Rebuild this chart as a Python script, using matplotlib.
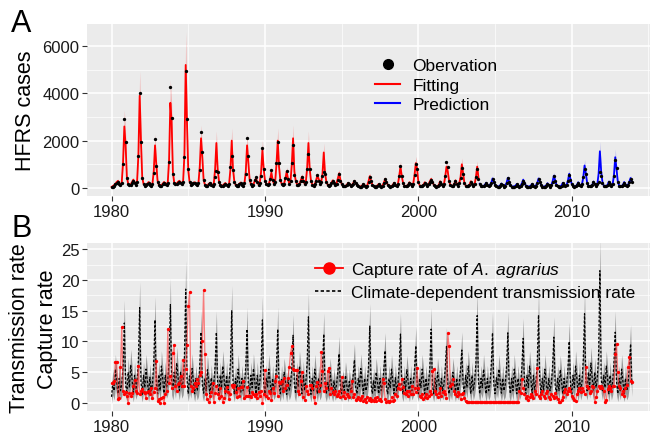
import numpy as np
import matplotlib.pyplot as plt
from matplotlib.lines import Line2D
from matplotlib.ticker import MultipleLocator

plt.rcParams['font.family'] = ['Liberation Sans', 'DejaVu Sans']
plt.rcParams['mathtext.fontset'] = 'custom'
plt.rcParams['mathtext.rm'] = 'Liberation Sans'
plt.rcParams['mathtext.it'] = 'Liberation Sans:italic'

### Data, one row per year (Jan..Dec) ###
years = list(range(1980, 2014))
fit_start = 1980
pred_start = 2004

# observed HFRS cases
hfrs_obs = [
    [30, 50, 90, 150, 200, 260, 180, 110, 200, 1000, 2900, 1950],
    [420, 160, 110, 130, 220, 290, 200, 120, 260, 1340, 4000, 1950],
    [410, 150, 90, 110, 170, 210, 140, 90, 160, 630, 2050, 940],
    [250, 110, 80, 100, 160, 210, 180, 130, 220, 1080, 4250, 2950],
    [600, 210, 150, 170, 230, 260, 210, 160, 260, 1320, 4950, 2900],
    [800, 240, 140, 150, 200, 210, 160, 120, 190, 770, 2350, 1510],
    [320, 120, 80, 100, 150, 190, 130, 90, 160, 450, 700, 660],
    [260, 110, 70, 90, 140, 180, 120, 80, 170, 900, 1370, 760],
    [250, 110, 80, 100, 160, 200, 130, 90, 200, 590, 2100, 1370],
    [350, 150, 100, 130, 340, 480, 250, 120, 200, 520, 1690, 800],
    [300, 150, 120, 160, 380, 760, 350, 150, 250, 1040, 1930, 1040],
    [350, 160, 130, 180, 400, 730, 380, 170, 280, 1040, 1830, 560],
    [300, 140, 110, 160, 300, 460, 300, 160, 250, 800, 1440, 800],
    [280, 130, 100, 150, 300, 530, 300, 180, 250, 520, 660, 590],
    [250, 120, 90, 120, 200, 300, 200, 120, 180, 350, 590, 300],
    [150, 90, 70, 80, 120, 200, 150, 90, 110, 180, 300, 200],
    [120, 70, 50, 60, 90, 150, 100, 60, 100, 250, 450, 300],
    [130, 70, 50, 60, 100, 150, 100, 60, 100, 200, 380, 250],
    [130, 80, 60, 70, 120, 200, 130, 80, 150, 500, 940, 500],
    [200, 100, 70, 80, 130, 220, 150, 90, 180, 550, 1030, 820],
    [250, 100, 70, 80, 130, 220, 150, 90, 150, 250, 330, 250],
    [120, 70, 60, 70, 120, 250, 150, 80, 150, 500, 1110, 900],
    [300, 120, 80, 90, 150, 300, 180, 100, 200, 400, 840, 600],
    [200, 90, 70, 80, 130, 260, 150, 90, 150, 450, 800, 380],
    [150, 90, 70, 80, 120, 200, 130, 80, 120, 200, 380, 250],
    [120, 70, 50, 60, 100, 180, 110, 60, 100, 200, 410, 250],
    [110, 60, 50, 60, 90, 150, 100, 60, 90, 180, 310, 200],
    [100, 60, 50, 60, 90, 160, 100, 60, 100, 200, 380, 250],
    [110, 60, 50, 60, 100, 180, 110, 60, 110, 250, 490, 300],
    [130, 70, 50, 60, 100, 200, 120, 70, 120, 300, 550, 350],
    [150, 80, 60, 70, 110, 220, 130, 80, 150, 450, 800, 600],
    [200, 90, 70, 80, 120, 250, 150, 80, 150, 250, 670, 500],
    [200, 90, 70, 80, 120, 250, 150, 80, 150, 500, 1200, 830],
    [250, 100, 70, 80, 120, 230, 140, 80, 130, 250, 380, 250],
]

# model fitting 1980-2003
hfrs_fit = [
    [40, 80, 120, 180, 250, 300, 200, 120, 250, 1100, 2600, 1800],
    [450, 180, 120, 150, 250, 350, 250, 150, 300, 1400, 3900, 2000],
    [450, 170, 100, 120, 180, 250, 160, 100, 180, 700, 1800, 1000],
    [300, 130, 100, 120, 180, 250, 200, 150, 250, 1200, 3600, 2800],
    [650, 230, 170, 190, 260, 300, 240, 180, 300, 1400, 5200, 2800],
    [750, 260, 160, 170, 220, 240, 180, 140, 220, 900, 2100, 1300],
    [350, 140, 100, 120, 170, 220, 150, 110, 200, 800, 1900, 800],
    [300, 130, 90, 110, 160, 210, 140, 100, 200, 800, 2000, 800],
    [300, 130, 100, 120, 180, 230, 150, 110, 220, 700, 1800, 1100],
    [350, 160, 120, 150, 300, 420, 250, 140, 230, 700, 1600, 800],
    [330, 170, 140, 180, 350, 650, 350, 170, 280, 1000, 2000, 900],
    [350, 180, 150, 200, 400, 700, 380, 190, 300, 1000, 2100, 700],
    [320, 160, 130, 180, 320, 480, 320, 180, 270, 850, 1900, 800],
    [300, 150, 120, 170, 330, 520, 380, 200, 270, 600, 1500, 600],
    [280, 140, 110, 140, 220, 320, 220, 140, 200, 400, 620, 350],
    [170, 100, 80, 90, 130, 210, 160, 100, 120, 200, 300, 200],
    [130, 80, 60, 70, 100, 170, 110, 70, 110, 280, 500, 300],
    [140, 80, 60, 70, 110, 170, 110, 70, 110, 220, 380, 250],
    [140, 90, 70, 80, 130, 220, 140, 90, 160, 500, 900, 500],
    [220, 110, 80, 90, 140, 240, 160, 100, 190, 550, 1050, 800],
    [260, 110, 80, 90, 140, 240, 160, 100, 160, 280, 380, 260],
    [140, 80, 70, 80, 130, 280, 160, 90, 160, 480, 900, 700],
    [300, 130, 90, 100, 160, 320, 190, 110, 210, 450, 1000, 600],
    [220, 100, 80, 90, 140, 280, 160, 100, 160, 450, 900, 450],
]

# model prediction 2004-2013
hfrs_pred = [
    [180, 100, 80, 90, 130, 220, 140, 90, 130, 220, 400, 250],
    [130, 80, 60, 70, 110, 190, 120, 70, 110, 220, 430, 260],
    [120, 70, 60, 70, 100, 170, 110, 70, 100, 200, 350, 220],
    [110, 70, 60, 70, 100, 180, 110, 70, 110, 220, 400, 260],
    [120, 70, 60, 70, 110, 200, 120, 70, 120, 280, 520, 320],
    [140, 80, 60, 70, 110, 220, 130, 80, 130, 320, 600, 380],
    [160, 90, 70, 80, 120, 240, 140, 90, 160, 450, 950, 600],
    [230, 100, 80, 90, 130, 270, 160, 90, 160, 600, 1550, 700],
    [250, 100, 80, 90, 130, 270, 160, 90, 160, 550, 1300, 800],
    [270, 110, 80, 90, 130, 250, 150, 90, 140, 260, 420, 280],
]

# capture rate of A. agrarius
capture = [
    [3.2, 3.2, 3.6, 6.6, 6.6, 0.6, 0.8, 5.8, 12.3, 2.0, 1.5, 1.8],
    [1.2, 0.0, 1.6, 1.2, 1.7, 2.8, 3.8, 2.0, 1.7, 6.0, 1.5, 2.0],
    [2.2, 1.8, 1.6, 0.8, 1.8, 2.0, 1.5, 2.5, 0.8, 1.8, 2.5, 6.9],
    [0.3, 0.6, 0.0, 0.8, 0.9, 0.0, 1.5, 2.0, 12.0, 3.3, 4.4, 2.5],
    [8.2, 9.4, 2.8, 2.0, 3.1, 3.3, 4.4, 2.8, 7.0, 2.7, 5.5, 9.5],
    [15.8, 18.0, 2.8, 2.0, 2.5, 3.3, 2.8, 3.9, 3.3, 4.5, 5.0, 10.0],
    [18.3, 8.0, 1.5, 0.6, 0.1, 1.2, 1.8, 3.3, 0.1, 1.6, 2.8, 1.5],
    [0.8, 2.5, 1.2, 0.2, 0.8, 2.0, 2.6, 1.8, 0.6, 1.5, 3.0, 2.6],
    [3.0, 1.8, 1.0, 2.5, 1.2, 2.6, 2.6, 3.6, 0.8, 1.2, 2.6, 1.2],
    [1.2, 1.0, 1.8, 1.4, 1.2, 1.5, 0.8, 1.8, 1.2, 2.0, 0.0, 1.4],
    [5.4, 1.2, 0.8, 2.0, 1.6, 0.5, 2.5, 1.6, 3.5, 4.4, 1.2, 3.4],
    [3.2, 3.5, 2.0, 4.0, 2.5, 3.0, 4.0, 5.8, 8.1, 9.2, 5.6, 5.4],
    [5.3, 5.4, 2.0, 1.5, 3.5, 5.0, 1.0, 0.5, 2.8, 2.0, 1.5, 3.0],
    [3.0, 2.5, 1.0, 0.0, 2.8, 3.4, 2.0, 3.0, 8.3, 5.2, 2.0, 3.3],
    [2.5, 5.2, 5.7, 1.5, 2.5, 1.8, 1.5, 2.0, 1.2, 1.5, 2.0, 1.0],
    [4.2, 1.2, 1.8, 0.8, 1.5, 1.2, 1.0, 2.0, 3.6, 1.0, 1.5, 0.5],
    [0.6, 1.0, 0.5, 0.8, 1.2, 0.3, 0.6, 0.2, 1.0, 0.5, 0.8, 0.3],
    [0.5, 0.4, 0.8, 0.3, 1.0, 0.5, 0.6, 0.4, 3.9, 3.3, 0.6, 0.2],
    [0.3, 0.2, 0.4, 1.0, 0.3, 0.5, 1.5, 1.2, 2.5, 3.1, 2.3, 3.9],
    [2.6, 1.7, 1.5, 2.0, 1.2, 2.0, 1.5, 2.8, 1.5, 2.5, 1.8, 5.7],
    [2.5, 1.2, 0.9, 1.5, 0.6, 1.0, 1.4, 0.8, 1.2, 2.0, 1.5, 5.2],
    [5.5, 2.0, 1.5, 1.0, 1.6, 2.4, 1.2, 1.8, 2.0, 1.5, 0.8, 11.3],
    [9.3, 2.8, 3.1, 3.9, 2.0, 1.5, 1.2, 1.8, 1.5, 0.6, 1.5, 1.7],
    [0.8, 0.3, 0.1, 0.1, 0.1, 0.1, 0.1, 0.1, 0.1, 0.1, 0.1, 0.1],
    [0.1, 0.1, 0.1, 0.1, 0.1, 0.1, 0.1, 0.1, 0.1, 0.1, 0.1, 0.1],
    [0.1, 0.1, 0.1, 0.1, 0.1, 0.1, 0.1, 0.1, 0.1, 0.1, 0.1, 0.1],
    [0.1, 0.1, 0.1, 0.1, 0.1, 0.2, 0.1, 2.0, 1.7, 3.9, 2.5, 1.5],
    [0.8, 1.2, 0.5, 1.0, 1.5, 1.2, 0.8, 2.0, 1.5, 5.7, 1.2, 0.8],
    [1.5, 2.0, 1.2, 0.8, 1.6, 2.0, 1.0, 0.6, 1.5, 1.2, 0.8, 1.6],
    [1.0, 0.6, 0.2, 0.1, 0.5, 1.0, 1.8, 2.3, 1.5, 2.0, 2.5, 2.0],
    [1.2, 0.8, 0.5, 0.3, 1.5, 2.0, 2.5, 1.8, 2.5, 2.0, 1.5, 5.8],
    [2.8, 2.5, 1.7, 2.0, 2.8, 2.6, 0.1, 1.0, 2.0, 2.8, 2.5, 2.8],
    [2.5, 2.0, 0.1, 0.5, 2.2, 2.8, 2.5, 2.0, 2.8, 2.8, 7.9, 9.6],
    [5.0, 2.8, 2.5, 1.5, 2.0, 1.2, 2.5, 3.0, 5.8, 7.4, 3.6, 3.4],
]

# climate-dependent transmission rate
trans = [
    [1.0, 3.5, 2.0, 5.5, 3.5, 1.5, 4.0, 2.0, 3.0, 6.0, 13.0, 3.0],
    [1.5, 5.0, 2.5, 6.2, 4.0, 1.4, 4.5, 2.2, 3.5, 7.0, 15.5, 3.5],
    [1.4, 4.5, 2.5, 5.5, 3.6, 1.5, 4.2, 2.0, 3.0, 6.5, 13.5, 3.0],
    [1.5, 4.6, 2.0, 6.0, 4.0, 1.6, 4.5, 2.5, 3.6, 7.0, 16.0, 3.5],
    [2.0, 5.0, 2.5, 6.5, 4.2, 2.0, 5.0, 2.5, 3.5, 7.5, 18.5, 4.0],
    [1.5, 4.4, 2.5, 5.6, 3.5, 1.5, 4.0, 2.0, 3.0, 6.0, 11.5, 3.0],
    [1.6, 4.0, 2.0, 5.4, 3.4, 1.5, 4.1, 2.0, 3.2, 6.0, 11.5, 3.0],
    [1.5, 4.5, 2.4, 6.0, 4.0, 1.5, 4.5, 2.1, 3.5, 6.5, 15.0, 3.5],
    [1.5, 4.0, 2.0, 5.5, 3.5, 1.6, 4.0, 2.0, 3.0, 6.0, 12.0, 3.0],
    [1.5, 4.5, 2.5, 5.6, 3.6, 1.5, 4.5, 2.0, 3.5, 6.5, 13.5, 3.1],
    [1.5, 4.1, 2.5, 5.5, 3.5, 1.5, 4.0, 2.1, 3.0, 6.0, 12.0, 3.0],
    [1.5, 4.0, 2.0, 5.0, 3.5, 1.4, 4.0, 2.0, 3.1, 5.5, 11.0, 3.0],
    [1.5, 4.5, 2.6, 6.0, 4.0, 1.5, 4.6, 2.0, 3.5, 6.5, 14.0, 3.0],
    [1.4, 4.0, 2.0, 5.5, 3.5, 1.5, 4.0, 2.0, 3.0, 6.0, 11.2, 3.0],
    [1.5, 3.5, 2.0, 5.0, 3.0, 1.5, 3.6, 1.9, 3.0, 5.0, 8.0, 2.5],
    [1.5, 3.4, 2.0, 4.5, 3.0, 1.4, 3.5, 2.0, 2.5, 4.5, 7.0, 2.5],
    [1.5, 4.0, 2.5, 5.6, 3.5, 1.5, 4.0, 2.0, 3.0, 6.0, 12.5, 3.0],
    [1.5, 3.6, 2.0, 5.0, 3.4, 1.5, 4.0, 2.0, 3.0, 5.5, 8.5, 2.5],
    [1.5, 4.0, 2.4, 5.5, 3.5, 1.5, 4.1, 2.0, 3.0, 6.0, 11.2, 3.0],
    [1.5, 4.0, 2.0, 5.4, 3.5, 1.5, 4.0, 2.0, 3.0, 5.5, 9.3, 3.0],
    [1.5, 4.0, 2.5, 5.5, 3.6, 1.5, 4.0, 2.0, 3.2, 6.0, 12.0, 3.0],
    [1.5, 4.0, 2.0, 5.0, 3.5, 1.5, 4.0, 2.0, 3.0, 5.5, 9.2, 3.0],
    [1.5, 3.5, 2.0, 5.0, 3.4, 1.5, 4.0, 2.0, 3.0, 5.5, 8.6, 3.0],
    [1.5, 4.5, 2.5, 6.0, 4.0, 1.5, 4.5, 2.0, 3.5, 6.5, 14.2, 3.5],
    [1.5, 4.0, 2.5, 5.5, 3.5, 1.5, 4.0, 2.0, 3.0, 6.0, 11.4, 3.0],
    [1.5, 4.1, 2.5, 5.5, 3.5, 1.6, 4.0, 2.0, 3.0, 6.0, 11.4, 3.0],
    [1.5, 4.0, 2.0, 5.5, 3.5, 1.5, 4.0, 2.0, 3.0, 6.0, 10.5, 3.0],
    [1.5, 4.5, 2.5, 6.0, 4.0, 1.5, 4.5, 2.0, 3.5, 6.5, 14.3, 3.5],
    [1.5, 4.0, 2.0, 5.5, 3.5, 1.5, 4.0, 2.0, 3.0, 6.0, 10.7, 3.0],
    [1.5, 4.0, 2.0, 5.4, 3.5, 1.5, 4.0, 2.0, 3.0, 5.5, 10.0, 3.0],
    [1.5, 4.5, 2.5, 6.0, 4.0, 1.5, 4.5, 2.0, 3.5, 7.0, 14.5, 3.5],
    [2.0, 5.0, 2.5, 6.5, 4.0, 2.0, 5.0, 2.5, 4.0, 8.0, 21.5, 4.0],
    [2.0, 4.5, 2.5, 6.0, 4.0, 1.5, 4.5, 2.0, 3.5, 6.5, 11.5, 3.5],
    [1.5, 4.0, 2.0, 5.5, 3.5, 1.5, 4.0, 2.0, 3.0, 6.0, 9.6, 3.0],
]

# width of the uncertainty bands
fit_band_lo, fit_band_hi = 0.2, 0.27
trans_band_rel, trans_band_abs = 0.18, 1.4


def monthly(rows, first_year):
    vals = np.array(rows, dtype=float).ravel()
    t = first_year + np.arange(len(vals)) / 12.0
    return t, vals


t_obs, obs = monthly(hfrs_obs, years[0])
t_fit, fit = monthly(hfrs_fit, fit_start)
t_pred, pred = monthly(hfrs_pred, pred_start)
t_b, cap = monthly(capture, years[0])
_, tr = monthly(trans, years[0])

### Figure ###
fig = plt.figure(figsize=(6.57, 4.35), dpi=100)
axA = fig.add_axes([87 / 657, 1 - 197 / 435, 563 / 657, 172 / 435])
axB = fig.add_axes([87 / 657, 1 - 412 / 435, 563 / 657, 168 / 435])

for ax in (axA, axB):
    ax.set_facecolor('#EBEBEB')
    for s in ax.spines.values():
        s.set_visible(False)
    ax.set_axisbelow(True)
    ax.grid(which='major', color='white', lw=1.1)
    ax.grid(which='minor', color='white', lw=0.5)
    ax.tick_params(which='major', length=3.5, width=0.8, color='#333333',
                   labelsize=12, labelcolor='#1a1a1a', pad=2)
    ax.tick_params(which='minor', length=0)
    ax.set_xlim(1978.4, 2015.1)
    ax.set_xticks([1980, 1990, 2000, 2010])
    ax.xaxis.set_minor_locator(MultipleLocator(5))

# panel A
axA.fill_between(t_fit, fit * (1 - fit_band_lo), fit * (1 + fit_band_hi),
                 color='red', alpha=0.25, lw=0)
axA.fill_between(t_pred, pred * (1 - fit_band_lo), pred * (1 + fit_band_hi),
                 color='blue', alpha=0.2, lw=0)
axA.plot(t_fit, fit, color='red', lw=1.3)
axA.plot(t_pred, pred, color='blue', lw=1.3)
axA.plot(t_obs, obs, 'o', color='black', ms=2.4, mew=0)
axA.set_ylim(-340, 6930)
axA.set_yticks([0, 2000, 4000, 6000])
axA.yaxis.set_minor_locator(MultipleLocator(1000))

hA = [Line2D([], [], ls='none', marker='o', color='black', ms=7),
      Line2D([], [], color='red', lw=1.5),
      Line2D([], [], color='blue', lw=1.5)]
axA.legend(hA, ['Obervation', 'Fitting', 'Prediction'], loc='upper left',
           bbox_to_anchor=(0.5115, 0.803), frameon=False, fontsize=12.5,
           handlelength=1.45, handletextpad=0.7, labelspacing=0.26,
           borderpad=0, borderaxespad=0)

# panel B
axB.fill_between(t_b, np.clip(tr * (1 - trans_band_rel * 2.5) - 0.6, 0, None),
                 tr * (1 + trans_band_rel) + trans_band_abs,
                 color='#444444', alpha=0.5, lw=0)
axB.plot(t_b, tr, color='black', lw=0.9, dashes=(2.0, 1.4))
axB.plot(t_b, cap, color='#ff3030', lw=0.9, alpha=0.6)
axB.plot(t_b, cap, 'o', color='red', ms=2.4, mew=0)
axB.set_ylim(-1.3, 26.0)
axB.set_yticks([0, 5, 10, 15, 20, 25])
axB.yaxis.set_minor_locator(MultipleLocator(2.5))

hB = [Line2D([], [], color='red', lw=1.3, marker='o', ms=8),
      Line2D([], [], color='black', lw=1.2, dashes=(2.0, 1.4))]
axB.legend(hB, ['Capture rate of $\\it{A.\\ agrarius}$',
                'Climate-dependent transmission rate'], loc='upper left',
           bbox_to_anchor=(0.405, 0.899), frameon=False, fontsize=12.5,
           handlelength=1.6, handletextpad=0.5, labelspacing=0.34,
           borderpad=0, borderaxespad=0)

# labels
fig.text(26 / 657, 1 - 111 / 435, 'HFRS cases', rotation=90, ha='center',
         va='center', fontsize=15.5)
fig.text(20 / 657, 1 - 328 / 435, 'Transmission rate', rotation=90,
         ha='center', va='center', fontsize=15.5)
fig.text(47 / 657, 1 - 329 / 435, 'Capture rate', rotation=90,
         ha='center', va='center', fontsize=15.5)
fig.text(11 / 657, 1 - 9 / 435, 'A', ha='left', va='top', fontsize=22)
fig.text(11 / 657, 1 - 214 / 435, 'B', ha='left', va='top', fontsize=22)

fig.savefig('out.png', dpi=100)
